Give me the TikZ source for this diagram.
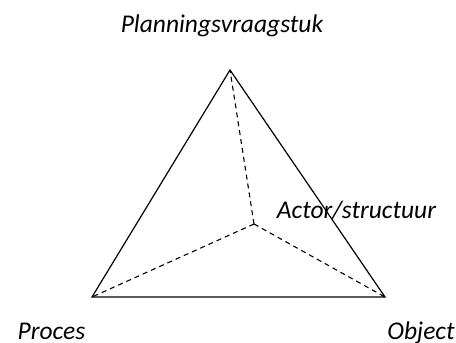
\documentclass[tikz,border=0pt]{standalone}
\usepackage{fontspec}
\setmainfont{Carlito}
\begin{document}
\begin{tikzpicture}[x=1pt,y=-1pt,
  lbl/.style={font=\fontsize{25.5}{30}\selectfont\itshape, inner sep=0pt, anchor=base},
  edge/.style={line width=1.2pt},
  dashline/.style={line width=1.1pt, dash pattern=on 5pt off 4pt}]
\useasboundingbox[fill=white] (0,0) rectangle (456,343);
\coordinate (P) at (230,70);
\coordinate (L) at (92,297);
\coordinate (R) at (385,297);
\coordinate (C) at (254,224);
\draw[edge, line join=miter] (P) -- (L) -- (R) -- cycle;
\draw[dashline] (C) -- (P);
\draw[dashline] (C) -- (L);
\draw[dashline] (C) -- (R);
\node[lbl] (tp) at (222,32) {Planningsvraagstuk};
\node[lbl] (ta) at (356.5,218) {Actor/structuur};
\node[lbl] (tl) at (51.5,339) {Proces};
\node[lbl] (tr) at (421,339) {Object};
\end{tikzpicture}
\end{document}
